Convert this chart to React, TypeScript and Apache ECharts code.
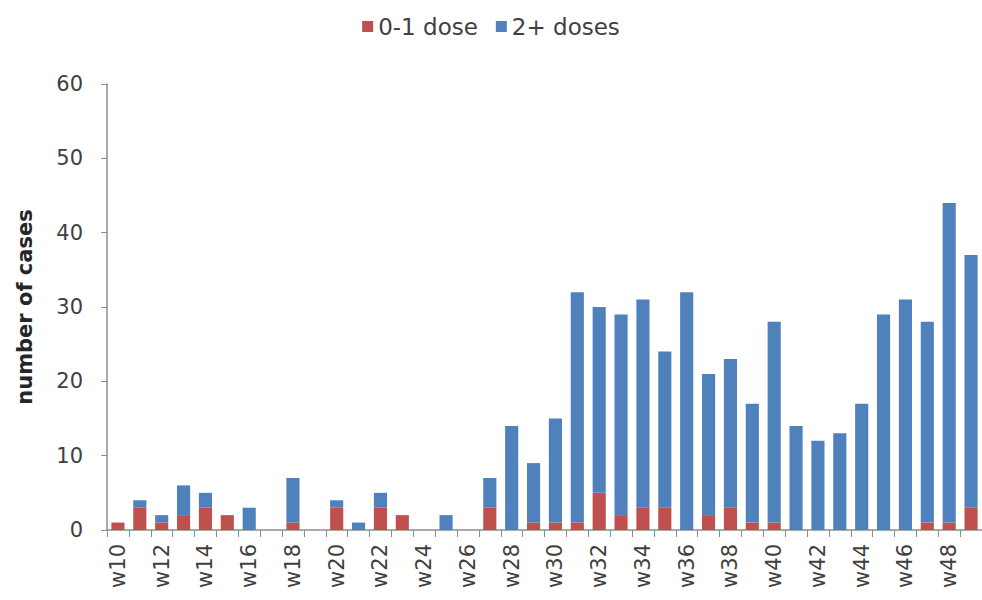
import React, { useEffect, useRef } from "react";
import * as echarts from "echarts";

const weeks = [
  "w10","w11","w12","w13","w14","w15","w16","w17","w18","w19",
  "w20","w21","w22","w23","w24","w25","w26","w27","w28","w29",
  "w30","w31","w32","w33","w34","w35","w36","w37","w38","w39",
  "w40","w41","w42","w43","w44","w45","w46","w47","w48","w49",
];
const lowDose = [
  1, 3, 1, 2, 3, 2, 0, 0, 1, 0,
  3, 0, 3, 2, 0, 0, 0, 3, 0, 1,
  1, 1, 5, 2, 3, 3, 0, 2, 3, 1,
  1, 0, 0, 0, 0, 0, 0, 1, 1, 3,
];
const highDose = [
  0, 1, 1, 4, 2, 0, 3, 0, 6, 0,
  1, 1, 2, 0, 0, 2, 0, 4, 14, 8,
  14, 31, 25, 27, 28, 21, 32, 19, 20, 16,
  27, 14, 12, 13, 17, 29, 31, 27, 43, 34,
];
const yTicks = { min: 0, max: 60, interval: 10 };

export default function App() {
  const ref = useRef<HTMLDivElement>(null);
  useEffect(() => {
    if (!ref.current) return;
    const chart = echarts.init(ref.current, undefined, { renderer: "svg" });
    const font = "'DejaVu Sans', 'Liberation Sans', sans-serif";
    const axisColor = "#8c8c8c";
    chart.setOption({
      animation: false,
      backgroundColor: "#ffffff",
      textStyle: { fontFamily: font },
      legend: {
        top: 10,
        left: "center",
        itemWidth: 11,
        itemHeight: 11,
        itemGap: 18,
        icon: "rect",
        textStyle: { fontSize: 23, color: "#404040", fontFamily: font },
        data: ["0-1 dose", "2+ doses"],
      },
      grid: { left: 107, top: 84, width: 877, bottom: 70 },
      xAxis: {
        type: "category",
        data: weeks,
        axisLine: { lineStyle: { color: axisColor, width: 1.5 } },
        axisTick: { show: true, interval: 0, length: 7, lineStyle: { color: axisColor } },
        axisLabel: {
          interval: 1,
          rotate: 90,
          fontSize: 21,
          color: "#404040",
          margin: 14,
          fontFamily: font,
        },
      },
      yAxis: {
        type: "value",
        min: yTicks.min,
        max: yTicks.max,
        interval: yTicks.interval,
        name: "number of cases",
        nameLocation: "middle",
        nameGap: 72,
        nameTextStyle: { fontSize: 21, fontWeight: "bold", color: "#262626", fontFamily: font },
        splitLine: { show: false },
        axisLine: { show: true, lineStyle: { color: axisColor, width: 1.5 } },
        axisTick: { show: true, length: 6, lineStyle: { color: axisColor } },
        axisLabel: { fontSize: 21, color: "#404040", margin: 24, fontFamily: font },
      },
      series: [
        {
          name: "0-1 dose",
          type: "bar",
          stack: "total",
          data: lowDose,
          barCategoryGap: "40%",
          itemStyle: { color: "#C0504D" },
        },
        {
          name: "2+ doses",
          type: "bar",
          stack: "total",
          data: highDose,
          barCategoryGap: "40%",
          itemStyle: { color: "#4F81BD" },
        },
      ],
    });
    return () => chart.dispose();
  }, []);
  return (
    <div
      ref={ref}
      style={{ position: "fixed", left: 0, top: 0, width: 982, height: 600 }}
    />
  );
}
